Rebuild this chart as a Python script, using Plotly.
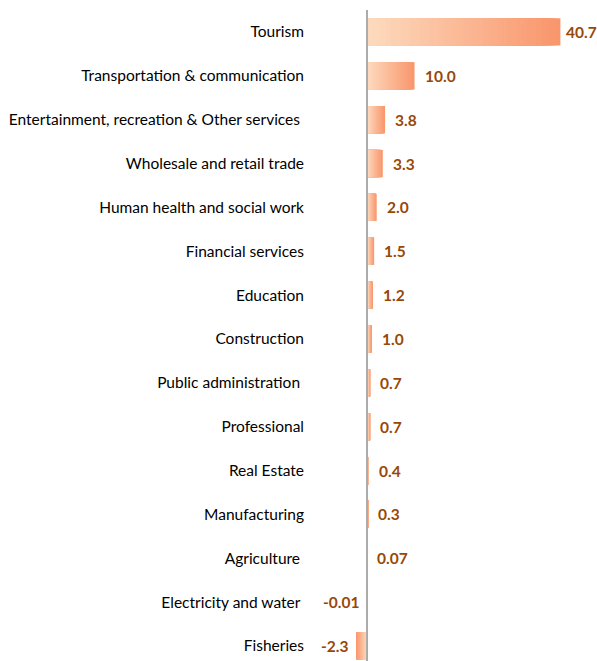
import plotly.graph_objects as go

categories = [
    "Tourism",
    "Transportation & communication",
    "Entertainment, recreation & Other services\u00a0",
    "Wholesale and retail trade",
    "Human health and social work",
    "Financial services",
    "Education",
    "Construction",
    "Public administration\u00a0",
    "Professional",
    "Real Estate",
    "Manufacturing",
    "Agriculture\u00a0",
    "Electricity and water\u00a0",
    "Fisheries",
]
values = [40.7, 10.0, 3.8, 3.3, 2.0, 1.5, 1.2, 1.0, 0.7, 0.7, 0.4, 0.3, 0.07, -0.01, -2.3]
value_labels = ["40.7", "10.0", "3.8", "3.3", "2.0", "1.5", "1.2", "1.0", "0.7", "0.7",
                "0.4", "0.3", "0.07", "-0.01", "-2.3"]

START = (253, 218, 190)
END = (249, 150, 108)
N = 40
X_MIN, X_MAX = -12, 48.4

def mix(t):
    return "rgb({},{},{})".format(*[round(a + (b - a) * t) for a, b in zip(START, END)])

fig = go.Figure()
# Overlaid bars of decreasing length, lightest on top -> smooth horizontal gradient
for k in range(N):
    frac = (N - k) / N
    fig.add_trace(go.Bar(
        y=categories,
        x=[v * frac for v in values],
        orientation="h",
        marker=dict(color=mix((N - 1 - k) / (N - 1)), line=dict(width=0)),
        showlegend=False,
        hoverinfo="skip",
    ))

for cat, v, lab in zip(categories, values, value_labels):
    # labels squeeze closer to the bar when near the right edge of the plot
    near_edge = v > 0.75 * X_MAX
    fig.add_annotation(
        x=v, y=cat, xref="x", yref="y",
        text=lab, showarrow=False,
        xanchor="left" if v >= 0 else "right",
        xshift=(4 if near_edge else 8) if v >= 0 else -6,
        font=dict(family="Lato", size=15.5, color="#984807", weight="bold"),
    )

fig.add_shape(type="line", xref="x", yref="paper", x0=0, x1=0, y0=0, y1=1,
              line=dict(color="#ababab", width=2), layer="above")

fig.update_layout(
    width=597, height=661,
    margin=dict(l=310, r=0, t=10, b=0),
    barmode="overlay",
    bargap=0.38,
    plot_bgcolor="white",
    paper_bgcolor="white",
    xaxis=dict(range=[X_MIN, X_MAX], showgrid=False, zeroline=False,
               showticklabels=False, showline=False),
    yaxis=dict(type="category", categoryorder="array", categoryarray=categories,
               range=[14.342, -0.5], showgrid=False, zeroline=False, showline=False,
               ticks="", ticklabelstandoff=5,
               tickfont=dict(family="Lato", size=15.5, color="#000000")),
)

fig.write_html("out.html")
